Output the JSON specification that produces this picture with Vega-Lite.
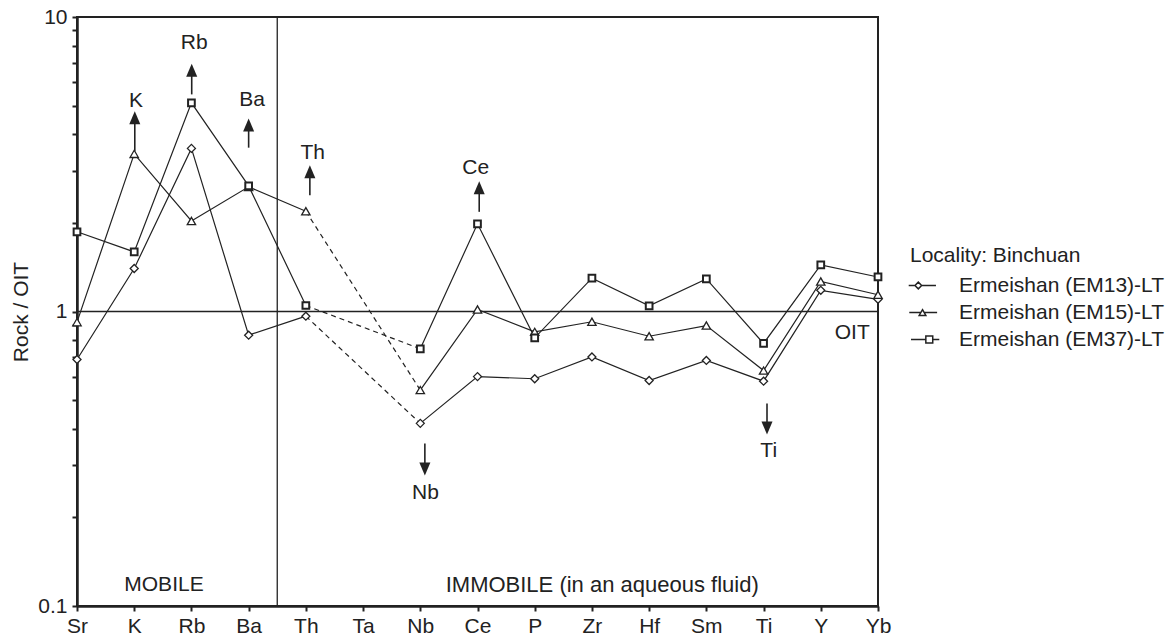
{
  "$schema": "https://vega.github.io/schema/vega-lite/v6.json",
  "width": 801,
  "height": 589,
  "autosize": {"type": "none"},
  "padding": {"left": 77, "top": 17, "right": 295, "bottom": 33},
  "background": "white",
  "config": {
    "font": "Liberation Sans",
    "view": {"stroke": "#222", "strokeWidth": 2},
    "axis": {
      "grid": false,
      "labelFontSize": 21,
      "titleFontSize": 21,
      "titleFontWeight": "normal",
      "labelColor": "#222",
      "titleColor": "#222",
      "domainColor": "#222",
      "tickColor": "#222",
      "domainWidth": 2.5,
      "tickWidth": 2,
      "tickSize": 5
    },
    "text": {"font": "Liberation Sans", "fontSize": 21, "color": "#222"}
  },
  "datasets": {
    "profiles": [
      {"series": "Ermeishan (EM13)-LT", "el": "Sr", "idx": 0, "v": 0.687},
      {"series": "Ermeishan (EM13)-LT", "el": "K", "idx": 1, "v": 1.40},
      {"series": "Ermeishan (EM13)-LT", "el": "Rb", "idx": 2, "v": 3.58},
      {"series": "Ermeishan (EM13)-LT", "el": "Ba", "idx": 3, "v": 0.831},
      {"series": "Ermeishan (EM13)-LT", "el": "Th", "idx": 4, "v": 0.964},
      {"series": "Ermeishan (EM13)-LT", "el": "Nb", "idx": 6, "v": 0.417},
      {"series": "Ermeishan (EM13)-LT", "el": "Ce", "idx": 7, "v": 0.601},
      {"series": "Ermeishan (EM13)-LT", "el": "P", "idx": 8, "v": 0.591},
      {"series": "Ermeishan (EM13)-LT", "el": "Zr", "idx": 9, "v": 0.701},
      {"series": "Ermeishan (EM13)-LT", "el": "Hf", "idx": 10, "v": 0.583},
      {"series": "Ermeishan (EM13)-LT", "el": "Sm", "idx": 11, "v": 0.682},
      {"series": "Ermeishan (EM13)-LT", "el": "Ti", "idx": 12, "v": 0.580},
      {"series": "Ermeishan (EM13)-LT", "el": "Y", "idx": 13, "v": 1.18},
      {"series": "Ermeishan (EM13)-LT", "el": "Yb", "idx": 14, "v": 1.10},
      {"series": "Ermeishan (EM15)-LT", "el": "Sr", "idx": 0, "v": 0.92},
      {"series": "Ermeishan (EM15)-LT", "el": "K", "idx": 1, "v": 3.43},
      {"series": "Ermeishan (EM15)-LT", "el": "Rb", "idx": 2, "v": 2.03},
      {"series": "Ermeishan (EM15)-LT", "el": "Ba", "idx": 3, "v": 2.65},
      {"series": "Ermeishan (EM15)-LT", "el": "Th", "idx": 4, "v": 2.19},
      {"series": "Ermeishan (EM15)-LT", "el": "Nb", "idx": 6, "v": 0.541},
      {"series": "Ermeishan (EM15)-LT", "el": "Ce", "idx": 7, "v": 1.016},
      {"series": "Ermeishan (EM15)-LT", "el": "P", "idx": 8, "v": 0.853},
      {"series": "Ermeishan (EM15)-LT", "el": "Zr", "idx": 9, "v": 0.923},
      {"series": "Ermeishan (EM15)-LT", "el": "Hf", "idx": 10, "v": 0.824},
      {"series": "Ermeishan (EM15)-LT", "el": "Sm", "idx": 11, "v": 0.896},
      {"series": "Ermeishan (EM15)-LT", "el": "Ti", "idx": 12, "v": 0.630},
      {"series": "Ermeishan (EM15)-LT", "el": "Y", "idx": 13, "v": 1.264},
      {"series": "Ermeishan (EM15)-LT", "el": "Yb", "idx": 14, "v": 1.14},
      {"series": "Ermeishan (EM37)-LT", "el": "Sr", "idx": 0, "v": 1.865},
      {"series": "Ermeishan (EM37)-LT", "el": "K", "idx": 1, "v": 1.594},
      {"series": "Ermeishan (EM37)-LT", "el": "Rb", "idx": 2, "v": 5.11},
      {"series": "Ermeishan (EM37)-LT", "el": "Ba", "idx": 3, "v": 2.67},
      {"series": "Ermeishan (EM37)-LT", "el": "Th", "idx": 4, "v": 1.048},
      {"series": "Ermeishan (EM37)-LT", "el": "Nb", "idx": 6, "v": 0.747},
      {"series": "Ermeishan (EM37)-LT", "el": "Ce", "idx": 7, "v": 1.985},
      {"series": "Ermeishan (EM37)-LT", "el": "P", "idx": 8, "v": 0.814},
      {"series": "Ermeishan (EM37)-LT", "el": "Zr", "idx": 9, "v": 1.298},
      {"series": "Ermeishan (EM37)-LT", "el": "Hf", "idx": 10, "v": 1.045},
      {"series": "Ermeishan (EM37)-LT", "el": "Sm", "idx": 11, "v": 1.29},
      {"series": "Ermeishan (EM37)-LT", "el": "Ti", "idx": 12, "v": 0.779},
      {"series": "Ermeishan (EM37)-LT", "el": "Y", "idx": 13, "v": 1.44},
      {"series": "Ermeishan (EM37)-LT", "el": "Yb", "idx": 14, "v": 1.31}
    ],
    "refs": [
      {"name": "OIT level", "idx": 0, "idx2": 14, "v": 1, "v2": 1},
      {"name": "mobile / immobile", "idx": 3.5, "idx2": 3.5, "v": 0.1, "v2": 10}
    ],
    "arrows": [
      {"el": "K", "dir": "up", "idx": 1.01, "v": 3.50, "v2": 4.55},
      {"el": "Rb", "dir": "up", "idx": 2.005, "v": 5.46, "v2": 6.59},
      {"el": "Ba", "dir": "up", "idx": 3.0, "v": 3.60, "v2": 4.30},
      {"el": "Th", "dir": "up", "idx": 4.07, "v": 2.48, "v2": 2.98},
      {"el": "Ce", "dir": "up", "idx": 7.03, "v": 2.18, "v2": 2.63},
      {"el": "Nb", "dir": "down", "idx": 6.08, "v": 0.356, "v2": 0.292},
      {"el": "Ti", "dir": "down", "idx": 12.06, "v": 0.487, "v2": 0.402}
    ],
    "arrowLabels": [
      {"txt": "K", "idx": 1.03, "v": 5.18},
      {"txt": "Rb", "idx": 2.05, "v": 8.18},
      {"txt": "Ba", "idx": 3.06, "v": 5.21},
      {"txt": "Th", "idx": 4.12, "v": 3.46},
      {"txt": "Ce", "idx": 6.97, "v": 3.07},
      {"txt": "Nb", "idx": 6.09, "v": 0.242},
      {"txt": "Ti", "idx": 12.09, "v": 0.335}
    ],
    "notes": [
      {"txt": "MOBILE", "idx": 1.52, "v": 0.118},
      {"txt": "IMMOBILE (in an aqueous fluid)", "idx": 9.18, "v": 0.118},
      {"txt": "OIT", "idx": 13.55, "v": 0.842}
    ]
  },
  "encoding": {
    "x": {
      "field": "idx",
      "type": "quantitative",
      "scale": {"domain": [0, 14], "nice": false, "zero": false},
      "axis": {
        "title": null,
        "values": [0, 1, 2, 3, 4, 5, 6, 7, 8, 9, 10, 11, 12, 13, 14],
        "labelExpr": "['Sr','K','Rb','Ba','Th','Ta','Nb','Ce','P','Zr','Hf','Sm','Ti','Y','Yb'][datum.value]",
        "labelPadding": 4,
        "labelFlush": false,
        "labelOverlap": false
      }
    },
    "y": {
      "field": "v",
      "type": "quantitative",
      "scale": {"type": "log", "domain": [0.1, 10], "nice": false},
      "axis": {
        "title": "Rock / OIT",
        "values": [0.1, 0.2, 0.3, 0.4, 0.5, 0.6, 0.7, 0.8, 0.9, 1, 2, 3, 4, 5, 6, 7, 8, 9, 10],
        "labelExpr": "datum.value == 0.1 ? '0.1' : datum.value == 1 ? '1' : datum.value == 10 ? '10' : ''",
        "labelPadding": 5,
        "labelOverlap": false,
        "labelFlush": false,
        "titlePadding": 6
      }
    }
  },
  "layer": [
    {
      "data": {"name": "refs"},
      "mark": {"type": "rule", "color": "#222", "strokeWidth": 1.3},
      "encoding": {"x2": {"field": "idx2"}, "y2": {"field": "v2"}}
    },
    {
      "data": {"name": "profiles"},
      "transform": [{"filter": "datum.idx <= 4"}],
      "mark": {"type": "line", "color": "#222", "strokeWidth": 1.2},
      "encoding": {"detail": {"field": "series"}}
    },
    {
      "data": {"name": "profiles"},
      "transform": [{"filter": "datum.idx >= 6"}],
      "mark": {"type": "line", "color": "#222", "strokeWidth": 1.2},
      "encoding": {"detail": {"field": "series"}}
    },
    {
      "data": {"name": "profiles"},
      "transform": [{"filter": "datum.idx == 4 || datum.idx == 6"}],
      "mark": {"type": "line", "color": "#222", "strokeWidth": 1.2, "strokeDash": [5, 4]},
      "encoding": {"detail": {"field": "series"}}
    },
    {
      "data": {"name": "profiles"},
      "mark": {"type": "point", "filled": true, "fill": "white", "stroke": "#222", "opacity": 1},
      "encoding": {
        "shape": {
          "field": "series",
          "type": "nominal",
          "scale": {
            "domain": ["Ermeishan (EM13)-LT", "Ermeishan (EM15)-LT", "Ermeishan (EM37)-LT"],
            "range": ["diamond", "triangle-up", "square"]
          },
          "legend": null
        },
        "size": {
          "condition": [
            {"test": "datum.series === 'Ermeishan (EM37)-LT'", "value": 45},
            {"test": "datum.series === 'Ermeishan (EM15)-LT'", "value": 70}
          ],
          "value": 64
        },
        "strokeWidth": {
          "condition": {"test": "datum.series === 'Ermeishan (EM37)-LT'", "value": 2},
          "value": 1.3
        }
      }
    },
    {
      "data": {"values": []},
      "mark": {"type": "point", "filled": true, "fill": "white", "stroke": "#222", "strokeWidth": 1.2, "opacity": 1},
      "encoding": {
        "shape": {
          "field": "series",
          "type": "nominal",
          "scale": {
            "domain": ["Ermeishan (EM13)-LT", "Ermeishan (EM15)-LT", "Ermeishan (EM37)-LT"],
            "range": [
              "M-1.2,0L-0.655,0M-0.075,0L1.17,0M-0.655,0L-0.365,-0.29L-0.075,0L-0.365,0.29Z",
              "M-1.15,0L-0.145,0M0.145,0L1.27,0M0,-0.25L0.29,0.25L-0.29,0.25Z",
              "M-1,0L0.29,0M0.89,0L1.46,0M0.29,-0.3L0.89,-0.3L0.89,0.3L0.29,0.3Z"
            ]
          },
          "legend": {
            "title": "Locality: Binchuan",
            "orient": "none",
            "legendX": 833,
            "legendY": 228,
            "padding": 0,
            "titleFontSize": 21,
            "titleFontWeight": "normal",
            "titleColor": "#222",
            "titlePadding": 7,
            "labelFontSize": 21,
            "labelColor": "#222",
            "labelLimit": 0,
            "labelOffset": 24,
            "symbolSize": 529,
            "rowPadding": 4,
            "encode": {
              "symbols": {
                "fill": {"value": "white"},
                "stroke": {"value": "#222"},
                "strokeWidth": {"value": 1.2},
                "opacity": {"value": 1},
                "fillOpacity": {"value": 1},
                "strokeOpacity": {"value": 1},
                "size": {"value": 529}
              }
            }
          }
        }
      }
    },
    {
      "data": {"name": "arrows"},
      "mark": {"type": "rule", "color": "#222", "strokeWidth": 1.6},
      "encoding": {"y2": {"field": "v2"}}
    },
    {
      "data": {"name": "arrows"},
      "mark": {"type": "point", "filled": true, "fill": "#222", "strokeWidth": 0, "size": 169, "opacity": 1},
      "encoding": {
        "y": {"field": "v2", "type": "quantitative"},
        "shape": {
          "field": "dir",
          "type": "nominal",
          "scale": {
            "domain": ["up", "down"],
            "range": ["M0,-1L0.85,1L-0.85,1Z", "M0,1L0.85,-1L-0.85,-1Z"]
          },
          "legend": null
        }
      }
    },
    {
      "data": {"name": "arrowLabels"},
      "mark": {"type": "text", "align": "center", "baseline": "middle"},
      "encoding": {"text": {"field": "txt"}}
    },
    {
      "data": {"name": "notes"},
      "mark": {"type": "text", "align": "center", "baseline": "middle"},
      "encoding": {
        "text": {"field": "txt"},
        "size": {
          "condition": {"test": "datum.txt === 'IMMOBILE (in an aqueous fluid)'", "value": 22},
          "value": 21
        }
      }
    }
  ],
  "resolve": {"scale": {"shape": "independent"}, "legend": {"shape": "independent"}}
}
